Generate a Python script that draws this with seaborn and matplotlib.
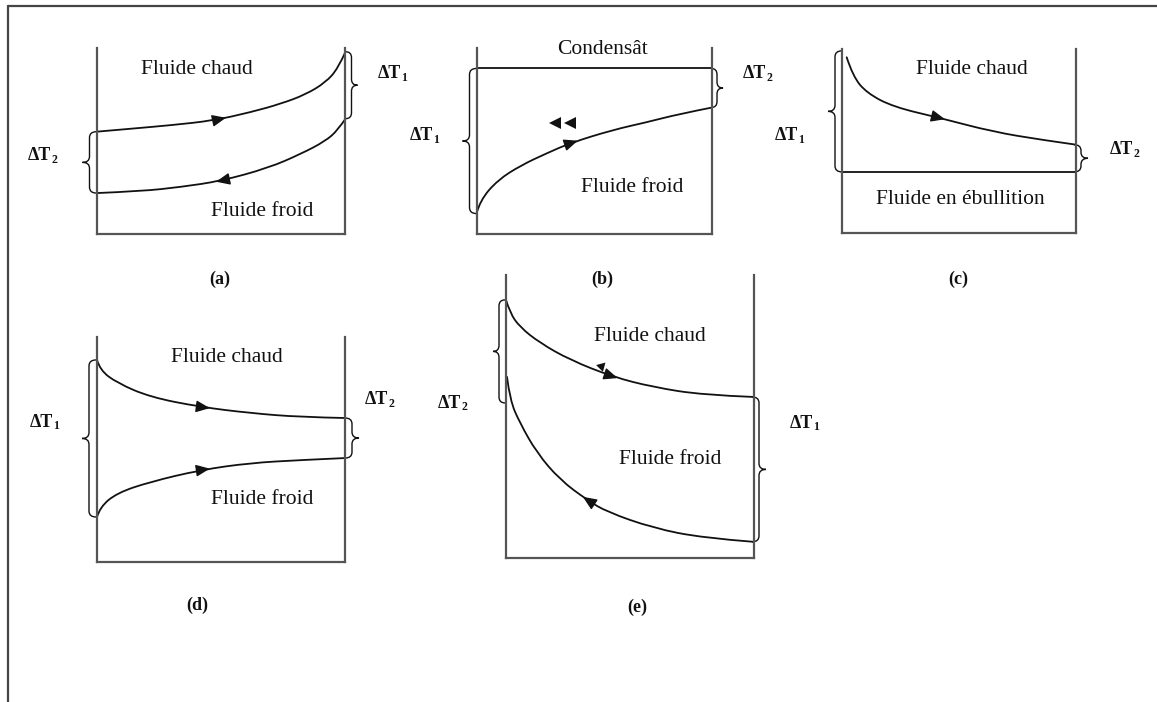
import numpy as np
import matplotlib
matplotlib.use("Agg")
import matplotlib.pyplot as plt
from matplotlib.path import Path
from matplotlib.patches import PathPatch
from matplotlib.lines import Line2D
import seaborn as sns

# ---- temperature profiles (x: position along exchanger 0..1, y: temperature 0..100) ----
# (a) counter-current
hot_a_x = np.array([0.0, 0.13, 0.30, 0.47, 0.62, 0.74, 0.84, 0.92, 0.97, 1.0])
hot_a_y = np.array([55.0, 56.5, 58.5, 61.0, 65.5, 70.0, 75.0, 81.5, 89.0, 98.0])
cold_a_x = np.array([1.0, 0.97, 0.92, 0.82, 0.69, 0.50, 0.34, 0.18, 0.0])
cold_a_y = np.array([62.0, 56.0, 50.0, 43.0, 35.5, 28.5, 25.3, 23.0, 22.0])

# (b) condensing hot side
cond_b_x = np.array([0.0, 1.0])
cond_b_y = np.array([89.0, 89.0])
cold_b_x = np.array([0.0, 0.015, 0.09, 0.19, 0.30, 0.40, 0.58, 0.72, 0.86, 1.0])
cold_b_y = np.array([11.0, 18.0, 29.0, 37.0, 43.5, 49.0, 56.0, 60.0, 64.5, 68.0])
marks_b_x = np.array([0.333, 0.397])
marks_b_y = np.array([59.7, 59.7])

# (c) boiling cold side
hot_c_x = np.array([0.02, 0.047, 0.107, 0.22, 0.42, 0.645, 0.86, 1.0])
hot_c_y = np.array([95.5, 85.0, 76.0, 68.5, 62.5, 55.0, 50.5, 48.0])
boil_c_x = np.array([0.0, 1.0])
boil_c_y = np.array([33.2, 33.2])

# (d) co-current
hot_d_x = np.array([0.0, 0.012, 0.081, 0.214, 0.417, 0.617, 0.819, 1.0])
hot_d_y = np.array([89.8, 85.3, 79.6, 73.3, 68.9, 66.2, 64.4, 64.0])
cold_d_x = np.array([0.0, 0.012, 0.081, 0.214, 0.417, 0.617, 0.819, 1.0])
cold_d_y = np.array([20.0, 24.4, 30.7, 35.6, 40.9, 44.0, 45.3, 46.2])

# (e) counter-current, strong curvature
hot_e_x = np.array([0.0, 0.016, 0.056, 0.137, 0.258, 0.431, 0.593, 0.794, 1.0])
hot_e_y = np.array([91.2, 86.6, 81.6, 76.0, 70.0, 64.0, 60.4, 57.6, 56.9])
cold_e_x = np.array([1.0, 0.794, 0.593, 0.407, 0.327, 0.218, 0.125, 0.056, 0.016, 0.004])
cold_e_y = np.array([5.7, 7.1, 10.6, 16.3, 20.5, 27.6, 37.1, 47.7, 55.8, 64.0])
marks_e_x = np.array([0.385])
marks_e_y = np.array([68.0])

W, H = 1157, 702
INK = "#111111"
SPINE = "#555555"

sns.set_theme(style="white")
plt.rcParams["font.family"] = ["Liberation Serif", "DejaVu Serif"]

fig = plt.figure(figsize=(W / 100, H / 100), dpi=100)
fig.patch.set_facecolor("white")

# outer frame (top and left edges)
fig.add_artist(Line2D([8 / W, 1.0], [1 - 6 / H, 1 - 6 / H], transform=fig.transFigure,
                      color="#444444", lw=1.6))
fig.add_artist(Line2D([8 / W, 8 / W], [1 - 6 / H, 0.0], transform=fig.transFigure,
                      color="#444444", lw=1.6))


def panel(left, right, top, bottom):
    ax = fig.add_axes([left / W, 1 - bottom / H, (right - left) / W, (bottom - top) / H])
    ax.set_xlim(0, 1)
    ax.set_ylim(0, 100)
    ax.patch.set_visible(False)
    ax.set_xticks([])
    ax.set_yticks([])
    ax.spines["top"].set_visible(False)
    for s in ("left", "right", "bottom"):
        ax.spines[s].set_color(SPINE)
        ax.spines[s].set_linewidth(1.6)
    return ax


def straight(ax, x, y):
    sns.lineplot(x=x, y=y, sort=False, estimator=None, color=INK,
                 linewidth=1.3, ax=ax, legend=False)


def curve(ax, x, y):
    # smooth quadratic-Bezier path through the profile points
    pts = list(zip(x, y))
    verts = [pts[0]]
    codes = [Path.MOVETO]
    n = len(pts)
    for i in range(1, n - 1):
        end = pts[-1] if i == n - 2 else ((pts[i][0] + pts[i + 1][0]) / 2,
                                          (pts[i][1] + pts[i + 1][1]) / 2)
        verts += [pts[i], end]
        codes += [Path.CURVE3, Path.CURVE3]
    ax.add_patch(PathPatch(Path(verts, codes), fill=False, edgecolor=INK,
                           lw=1.3, capstyle="round"))


def arrow(ax, cx, cy, x, direction):
    order = np.argsort(cx)
    xs, ys = cx[order], cy[order]
    h = 0.02
    x0, x1 = x - direction * h, x + direction * h
    ax.annotate("", xy=(x1, np.interp(x1, xs, ys)), xytext=(x0, np.interp(x0, xs, ys)),
                arrowprops=dict(arrowstyle="-|>,head_length=0.7,head_width=0.3",
                                color=INK, lw=1.0, shrinkA=0, shrinkB=0,
                                mutation_scale=12),
                annotation_clip=False)


def brace(ax, x0, ya, yb, side, off_px, w_px, r_px=6):
    dx = 1.0 / ax.bbox.width
    dy = 100.0 / ax.bbox.height
    xb = x0 + side * off_px * dx
    w = w_px * dx
    r = r_px * dy
    top, bot = max(ya, yb), min(ya, yb)
    mid = (top + bot) / 2
    xin, xt = xb - side * w, xb + side * w
    verts = [(xin, top), (xb, top), (xb, top - r), (xb, mid + r),
             (xb, mid), (xt, mid), (xb, mid), (xb, mid - r),
             (xb, bot + r), (xb, bot), (xin, bot)]
    codes = [Path.MOVETO, Path.CURVE3, Path.CURVE3, Path.LINETO,
             Path.CURVE3, Path.CURVE3, Path.CURVE3, Path.CURVE3,
             Path.LINETO, Path.CURVE3, Path.CURVE3]
    ax.add_patch(PathPatch(Path(verts, codes), fill=False, edgecolor=INK,
                           lw=1.0, clip_on=False))


def label(x, y, s, size=15.5, weight="normal", ha="center"):
    fig.text(x / W, 1 - y / H, s, fontsize=size, fontweight=weight, ha=ha,
             va="center", color=INK)


def delta(x, y, sub):
    fig.text(x / W, 1 - y / H, "ΔT", fontsize=13, fontweight="bold",
             ha="left", va="center", color=INK)
    fig.text((x + 23) / W, 1 - (y + 4) / H, sub, fontsize=8.5, fontweight="bold",
             ha="left", va="center", color=INK)


# ---- (a) ----
ax = panel(96.5, 345.5, 48, 234)
curve(ax, hot_a_x, hot_a_y)
curve(ax, cold_a_x, cold_a_y)
arrow(ax, hot_a_x, hot_a_y, 0.50, +1)
arrow(ax, cold_a_x, cold_a_y, 0.50, -1)
brace(ax, 1.0, hot_a_y[-1], cold_a_y[0], +1, 6, 6)
brace(ax, 0.0, hot_a_y[0], cold_a_y[-1], -1, 7, 7)
label(197, 70, "Fluide chaud")
label(262, 212, "Fluide froid")
delta(378, 74, "1")
delta(28, 156, "2")
label(220, 279, "(a)", size=13, weight="bold")

# ---- (b) ----
ax = panel(476.5, 712, 48, 234)
straight(ax, cond_b_x, cond_b_y)
curve(ax, cold_b_x, cold_b_y)
arrow(ax, cold_b_x, cold_b_y, 0.41, +1)
ax.plot(marks_b_x, marks_b_y, linestyle="none", marker="<", markersize=8,
        color=INK, markeredgewidth=0)
brace(ax, 0.0, cond_b_y[0], cold_b_y[0], -1, 7, 7)
brace(ax, 1.0, cond_b_y[-1], cold_b_y[-1], +1, 5, 6)
label(602, 50, "Condensât")
label(632, 188, "Fluide froid")
delta(410, 136, "1")
delta(743, 74, "2")
label(602, 279, "(b)", size=13, weight="bold")

# ---- (c) ----
ax = panel(842, 1076, 49, 233)
curve(ax, hot_c_x, hot_c_y)
straight(ax, boil_c_x, boil_c_y)
arrow(ax, hot_c_x, hot_c_y, 0.42, +1)
brace(ax, 0.0, 99.0, boil_c_y[0], -1, 7, 7)
brace(ax, 1.0, hot_c_y[-1], boil_c_y[-1], +1, 5, 7)
label(972, 70, "Fluide chaud")
label(960, 199, "Fluide en ébullition")
delta(775, 136, "1")
delta(1110, 150, "2")
label(958, 279, "(c)", size=13, weight="bold")

# ---- (d) ----
ax = panel(97, 345, 337, 562)
curve(ax, hot_d_x, hot_d_y)
curve(ax, cold_d_x, cold_d_y)
arrow(ax, hot_d_x, hot_d_y, 0.435, +1)
arrow(ax, cold_d_x, cold_d_y, 0.435, +1)
brace(ax, 0.0, hot_d_y[0], cold_d_y[0], -1, 8, 7)
brace(ax, 1.0, hot_d_y[-1], cold_d_y[-1], +1, 7, 7)
label(227, 357, "Fluide chaud")
label(262, 500, "Fluide froid")
delta(30, 422, "1")
delta(365, 400, "2")
label(197, 605, "(d)", size=13, weight="bold")

# ---- (e) ----
ax = panel(506, 754, 275, 558)
curve(ax, hot_e_x, hot_e_y)
curve(ax, cold_e_x, cold_e_y)
arrow(ax, hot_e_x, hot_e_y, 0.43, +1)
arrow(ax, cold_e_x, cold_e_y, 0.33, -1)
ax.plot(marks_e_x, marks_e_y, linestyle="none", marker=(3, 0, 75), markersize=8,
        color=INK, markeredgewidth=0)
brace(ax, 0.0, hot_e_y[0], 54.8, -1, 7, 6)
brace(ax, 1.0, hot_e_y[-1], cold_e_y[0], +1, 5, 7)
label(650, 336, "Fluide chaud")
label(670, 460, "Fluide froid")
delta(438, 403, "2")
delta(790, 423, "1")
label(637, 607, "(e)", size=13, weight="bold")

fig.savefig("out.png", dpi=100)
